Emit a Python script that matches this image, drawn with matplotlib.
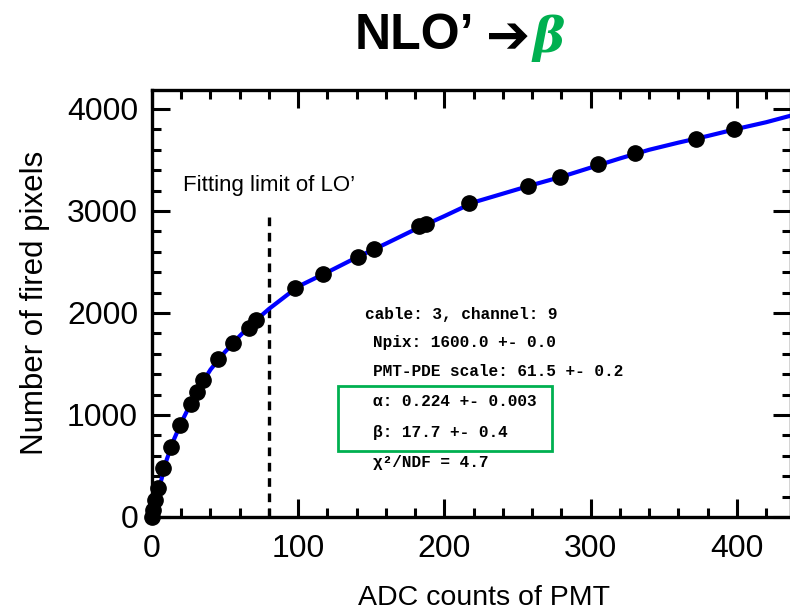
import matplotlib
matplotlib.use("Agg")
import matplotlib.pyplot as plt
from matplotlib.patches import Rectangle

plt.rcParams["font.family"] = ["Liberation Sans", "DejaVu Sans"]

# measured points (ADC counts, fired pixels)
adc = [0, 1, 2, 4.3, 7.7, 13, 19.1, 26.4, 30.5, 35, 45.3, 55.5, 66.4, 71.4,
       97.6, 117, 140.8, 151.5, 182.9, 187.5, 217, 257, 279, 304.9, 330.4,
       371.8, 398]
npix = [0, 70, 167, 284, 480, 690, 902, 1108, 1229, 1343, 1546, 1709, 1850,
        1931, 2242, 2379, 2552, 2627, 2856, 2873, 3075, 3240, 3330, 3458,
        3566, 3703, 3801]

# fitted curve
fit_x = [0, 2, 5, 10, 15, 20, 30, 40, 50, 60, 70, 80, 100, 120, 140, 160,
         180, 200, 220, 240, 260, 280, 300, 320, 340, 360, 380, 400, 420, 437]
fit_y = [0, 120, 290, 560, 760, 925, 1215, 1445, 1620, 1775, 1915, 2040,
         2260, 2400, 2545, 2680, 2820, 2950, 3085, 3170, 3255, 3335, 3425,
         3515, 3600, 3670, 3735, 3805, 3870, 3935]

fit_limit = 80
fit_info = ["cable: 3, channel: 9", "Npix: 1600.0 +- 0.0",
            "PMT-PDE scale: 61.5 +- 0.2", "α: 0.224 +- 0.003",
            "β: 17.7 +- 0.4", "χ²/NDF = 4.7"]

green = "#00b050"

fig = plt.figure(figsize=(7.9, 6.16), dpi=100)
ax = fig.add_axes([152 / 790, 1 - 517 / 616, (791 - 152) / 790, (517 - 90) / 616])

ax.plot(fit_x, fit_y, color="#0000ff", lw=3, zorder=3)
ax.plot(adc, npix, "o", color="black", ms=11, zorder=4, clip_on=False)
ax.plot([fit_limit, fit_limit], [0, 3000], ls=(0, (2.6, 2.0)), color="black", lw=2.4)
ax.text(fit_limit, 3250, "Fitting limit of LO’", ha="center", va="center", fontsize=16)

ax.set_xlim(0, 437)
ax.set_ylim(0, 4186)
ax.set_xticks([0, 100, 200, 300, 400])
ax.set_xticks(range(0, 437, 20), minor=True)
ax.set_yticks([0, 1000, 2000, 3000, 4000])
ax.set_yticks(range(0, 4186, 200), minor=True)
ax.tick_params(which="both", direction="in", top=True, right=True, width=2.2,
               labelsize=23)
ax.tick_params(which="major", length=13)
ax.tick_params(which="minor", length=6.5)
ax.tick_params(axis="x", pad=12)
ax.tick_params(axis="y", pad=10)
for s in ax.spines.values():
    s.set_linewidth(2.4)

fig.text(484 / 790, 1 - 598 / 616, "ADC counts of PMT", ha="center",
         va="center", fontsize=20.5)
fig.text(35 / 790, 1 - 303 / 616, "Number of fired pixels", ha="center",
         va="center", rotation=90, fontsize=22.5)

# fit summary
line_y = [314, 342, 372, 402, 432, 462]
line_x = [365, 373, 373, 373, 373, 373]
for txt, px, py in zip(fit_info, line_x, line_y):
    fig.text(px / 790, 1 - py / 616, txt, ha="left", va="center", fontsize=11.6,
             fontweight="bold", family=["Liberation Mono", "DejaVu Sans Mono"])
fig.add_artist(Rectangle((338 / 790, 1 - 451 / 616), 214 / 790, 65 / 616,
                         transform=fig.transFigure, fill=False,
                         edgecolor=green, lw=2))

# title
fig.text(355 / 790, 1 - 36 / 616, "NLO’", ha="left", va="center",
         fontsize=36, fontweight="bold")
fig.text(508 / 790, 1 - 38 / 616, "➔", ha="center", va="center",
         fontsize=38, fontweight="bold", family=["DejaVu Sans"])
fig.text(533 / 790, 1 - 38 / 616, "β", ha="left", va="center", fontsize=35,
         fontweight="bold", fontstyle="italic", color=green,
         family=["DejaVu Serif"])

fig.savefig("out.png", dpi=100)
